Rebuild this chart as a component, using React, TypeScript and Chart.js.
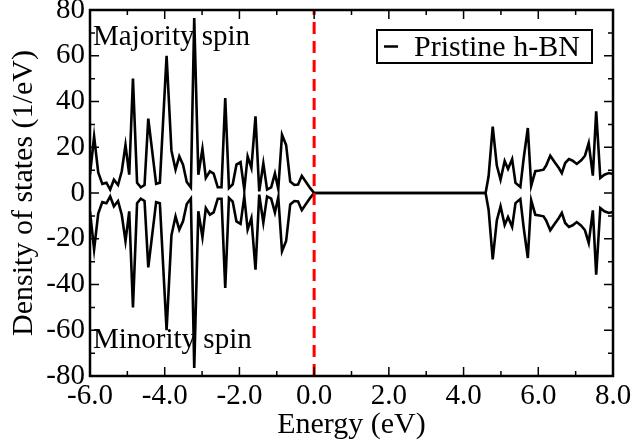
import React, { useEffect, useRef } from "react";
import { Chart, registerables } from "chart.js";

Chart.register(...registerables);

// Energy grid (eV)
const energy = [
  -6.0, -5.89, -5.78, -5.67, -5.56, -5.46, -5.36, -5.25, -5.15, -5.05,
  -4.95, -4.85, -4.74, -4.64, -4.54, -4.44, -4.34, -4.23, -4.13, -3.95,
  -3.82, -3.71, -3.61, -3.51, -3.41, -3.3, -3.21, -3.1, -2.99, -2.9,
  -2.79, -2.69, -2.58, -2.48, -2.38, -2.28, -2.18, -2.08, -1.97, -1.87,
  -1.78, -1.68, -1.57, -1.47, -1.36, -1.26, -1.15, -1.05, -0.96, -0.86,
  -0.75, -0.64, -0.53, -0.43, -0.33, -0.21, -0.1, 0.0,
  4.59, 4.67, 4.78, 4.89, 4.99, 5.1, 5.19, 5.3, 5.39, 5.52,
  5.61, 5.72, 5.81, 5.92, 6.03, 6.14, 6.21, 6.32, 6.44, 6.55,
  6.63, 6.72, 6.82, 6.92, 7.03, 7.15, 7.25, 7.35, 7.46, 7.55,
  7.66, 7.77, 7.89, 8.0,
];

// Majority-spin DOS (1/eV)
const majority = [
  8, 24.7, 9, 4, 4.5, 1.5, 5.8, 3.5, 9.5, 21,
  8, 50, 4.5, 2.5, 3.5, 32.5, 19, 4, 4.5, 60,
  18.5, 10.2, 16, 12.4, 4.8, 2.4, 76.5, 8, 19.3, 6.6,
  9.5, 8.5, 2.5, 2.5, 41.5, 2.2, 3.8, 12.4, 13.5, 1.5,
  16, 11, 33.5, 0.7, 13, 1.5, 2.5, 8.5, 1.8, 25.5,
  21, 5, 3.5, 3.7, 7.5, 4.6, 2, 0,
  0, 7.3, 29, 12, 5.8, 14, 10.5, 14.8, 4.4, 2.6,
  15.3, 28.4, 3.2, 9.5, 9.8, 10.2, 12, 16.3, 13.4, 10.9,
  8.7, 13.1, 14.8, 14.1, 12.7, 14.3, 16.3, 21.8, 7.6, 35.7,
  6.6, 8, 8.7, 8.3,
];

// Minority-spin DOS (1/eV)
const minority = [
  -8, -24.7, -9, -4, -4.5, -1.5, -5.8, -3.5, -9.5, -21,
  -8, -50, -4.5, -2.5, -3.5, -32.5, -19, -4, -4.5, -60,
  -18.5, -10.2, -16, -12.4, -4.8, -2.4, -76.5, -8, -19.3, -6.6,
  -9.5, -8.5, -2.5, -2.5, -41.5, -2.2, -3.8, -12.4, -13.5, -1.5,
  -16, -11, -33.5, -0.7, -13, -1.5, -2.5, -8.5, -1.8, -25.5,
  -21, -5, -3.5, -3.7, -7.5, -4.6, -2, 0,
  0, -7.3, -29, -12, -5.8, -14, -10.5, -14.8, -4.4, -2.6,
  -15.3, -28.4, -3.2, -9.5, -9.8, -10.2, -12, -16.3, -13.4, -10.9,
  -8.7, -13.1, -14.8, -14.1, -12.7, -14.3, -16.3, -21.8, -7.6, -35.7,
  -6.6, -8, -8.7, -8.3,
];

// Fermi level marker
const fermiX = [0, 0];
const fermiY = [-80, 80];

const xTicks = [-6, -4, -2, 0, 2, 4, 6, 8];
const yTicks = [-80, -60, -40, -20, 0, 20, 40, 60, 80];
const xMinorTicks = [-6, -5, -4, -3, -2, -1, 0, 1, 2, 3, 4, 5, 6, 7, 8];
const yMinorTicks = [-80, -70, -60, -50, -40, -30, -20, -10, 0, 10, 20, 30, 40, 50, 60, 70, 80];

const legendLabel = "Pristine h-BN";
const xTitle = "Energy (eV)";
const yTitle = "Density of states (1/eV)";
const noteTop = "Majority spin";
const noteBottom = "Minority spin";

const FONT = "'Liberation Serif', 'Times New Roman', serif";
const FS = 29;
const FT = 30;

const decorPlugin = {
  id: "decor",
  afterDraw(chart: any) {
    const { ctx, chartArea } = chart;
    const xs = chart.scales.x;
    const ys = chart.scales.y;
    const { left, right, top, bottom } = chartArea;
    ctx.save();
    // inward ticks
    ctx.strokeStyle = "#000";
    ctx.lineWidth = 1.5;
    xMinorTicks.forEach((v) => {
      const px = xs.getPixelForValue(v);
      const len = xTicks.includes(v) ? 9 : 5;
      ctx.beginPath();
      ctx.moveTo(px, bottom);
      ctx.lineTo(px, bottom - len);
      ctx.moveTo(px, top);
      ctx.lineTo(px, top + len);
      ctx.stroke();
    });
    yMinorTicks.forEach((v) => {
      const py = ys.getPixelForValue(v);
      const len = yTicks.includes(v) ? 9 : 5;
      ctx.beginPath();
      ctx.moveTo(left, py);
      ctx.lineTo(left + len, py);
      ctx.moveTo(right, py);
      ctx.lineTo(right - len, py);
      ctx.stroke();
    });
    // frame
    ctx.lineWidth = 2.5;
    ctx.strokeRect(left, top, right - left, bottom - top);

    // notes
    ctx.fillStyle = "#000";
    ctx.font = `${FS}px ${FONT}`;
    ctx.textAlign = "left";
    ctx.textBaseline = "alphabetic";
    ctx.fillText(noteTop, left + 3, top + 35);
    ctx.fillText(noteBottom, left + 3, top + 338);

    // legend
    const bx = 377, by = 30, bw = 215, bh = 33;
    ctx.fillStyle = "#fff";
    ctx.fillRect(bx, by, bw, bh);
    ctx.lineWidth = 2;
    ctx.strokeStyle = "#000";
    ctx.strokeRect(bx, by, bw, bh);
    ctx.lineWidth = 2.5;
    ctx.beginPath();
    ctx.moveTo(bx + 7, by + bh / 2);
    ctx.lineTo(bx + 21, by + bh / 2);
    ctx.stroke();
    ctx.fillStyle = "#000";
    ctx.font = `${FT}px ${FONT}`;
    ctx.fillText(legendLabel, bx + 37, by + 26);
    ctx.restore();
  },
};

export default function App() {
  const ref = useRef<HTMLCanvasElement | null>(null);

  useEffect(() => {
    document.body.style.margin = "0";
    const canvas = ref.current;
    if (!canvas) return;
    const chart = new Chart(canvas, {
      type: "line",
      data: {
        datasets: [
          {
            label: "Fermi level",
            data: fermiX.map((x, i) => ({ x, y: fermiY[i] })),
            borderColor: "#ff0000",
            borderWidth: 3,
            borderDash: [12, 7],
            pointRadius: 0,
          },
          {
            label: legendLabel,
            data: energy.map((x, i) => ({ x, y: majority[i] })),
            borderColor: "#000",
            borderWidth: 2.6,
            pointRadius: 0,
            tension: 0,
          },
          {
            label: legendLabel + " (minority)",
            data: energy.map((x, i) => ({ x, y: minority[i] })),
            borderColor: "#000",
            borderWidth: 2.6,
            pointRadius: 0,
            tension: 0,
          },
        ],
      },
      options: {
        animation: false,
        responsive: false,
        devicePixelRatio: 1,
        layout: { padding: { left: 0, right: 20, top: 10, bottom: 0 } },
        plugins: {
          legend: { display: false },
          tooltip: { enabled: false },
        },
        scales: {
          x: {
            type: "linear",
            min: -6,
            max: 8,
            afterBuildTicks: (s: any) => {
              s.ticks = xTicks.map((v) => ({ value: v }));
            },
            afterFit: (s: any) => {
              s.height = 68;
              s.paddingLeft = 0;
              s.paddingRight = 0;
            },
            grid: { display: false, drawTicks: false },
            border: { display: false },
            ticks: {
              color: "#000",
              font: { family: FONT, size: FS },
              padding: 3,
              maxRotation: 0,
              autoSkip: false,
              callback: (v: any) => Number(v).toFixed(1),
            },
            title: {
              display: true,
              text: xTitle,
              color: "#000",
              font: { family: FONT, size: FT },
              padding: { top: 0, bottom: 1 },
            },
          },
          y: {
            type: "linear",
            min: -80,
            max: 80,
            afterBuildTicks: (s: any) => {
              s.ticks = yTicks.map((v) => ({ value: v }));
            },
            afterFit: (s: any) => {
              s.width = 90;
              s.paddingTop = 0;
              s.paddingBottom = 0;
            },
            grid: { display: false, drawTicks: false },
            border: { display: false },
            ticks: {
              color: "#000",
              font: { family: FONT, size: FS },
              padding: 5,
              autoSkip: false,
              callback: (v: any) => String(v),
            },
            title: {
              display: true,
              text: yTitle,
              color: "#000",
              font: { family: FONT, size: FT },
              padding: { top: 6, bottom: 0 },
            },
          },
        },
      },
      plugins: [decorPlugin],
    });
    return () => chart.destroy();
  }, []);

  return (
    <div style={{ width: 633, height: 444 }}>
      <canvas ref={ref} width={633} height={444} style={{ display: "block" }} />
    </div>
  );
}
